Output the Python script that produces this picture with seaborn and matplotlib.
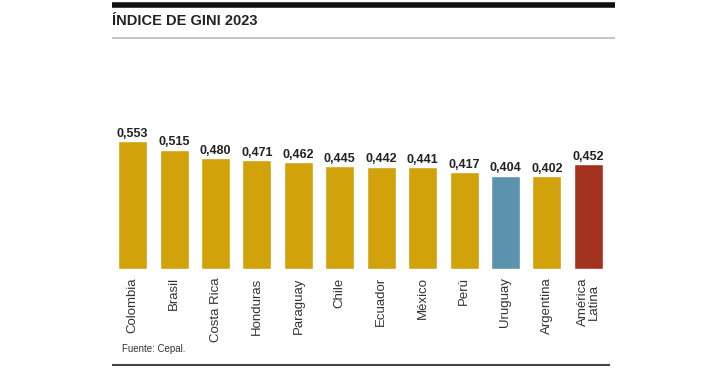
import numpy as np
import pandas as pd
import matplotlib
matplotlib.use("Agg")
import matplotlib.pyplot as plt
import seaborn as sns

paises = ["Colombia", "Brasil", "Costa Rica", "Honduras", "Paraguay", "Chile",
          "Ecuador", "México", "Perú", "Uruguay", "Argentina", "América\nLatina"]
gini = [0.553, 0.515, 0.480, 0.471, 0.462, 0.445, 0.442, 0.441, 0.417, 0.404, 0.402, 0.452]
colores = ["#D2A20A"] * 9 + ["#5B92AD", "#D2A20A", "#A2321E"]

df = pd.DataFrame({"pais": paises, "gini": gini})

sns.set_style("white")
plt.rcParams["font.family"] = ["Liberation Sans", "DejaVu Sans"]

fig = plt.figure(figsize=(7.2, 3.78), dpi=100)
ax = fig.add_axes([112 / 720, 1 - 269 / 378, 497 / 720, 162 / 378])

sns.barplot(data=df, x="pais", y="gini", hue="pais", palette=colores,
            width=0.7, legend=False, ax=ax, saturation=1)

for i, v in enumerate(gini):
    ax.text(i, v + 0.006, f"{v:.3f}".replace(".", ","), ha="center", va="bottom",
            fontsize=9, fontweight="bold", color="#222222")

ax.set_xlim(-0.5, len(paises) - 0.5)
ax.set_ylim(0, 0.7)
ax.set_yticks([])
ax.set_xlabel("")
ax.set_ylabel("")
ax.tick_params(axis="x", length=0, pad=6)
ax.set_xticks(range(len(paises)))
ax.set_xticklabels(paises, rotation=90, fontsize=9.5, color="#333333",
                   linespacing=0.95)
for s in ax.spines.values():
    s.set_visible(False)

# decoraciones
fig.add_artist(plt.Line2D([112 / 720, 615 / 720], [1 - 4.5 / 378, 1 - 4.5 / 378],
                          color="#111111", lw=4, solid_capstyle="butt"))
fig.add_artist(plt.Line2D([112 / 720, 615 / 720], [1 - 38 / 378, 1 - 38 / 378],
                          color="#BBBBBB", lw=1.2, solid_capstyle="butt"))
fig.add_artist(plt.Line2D([112 / 720, 610 / 720], [1 - 365 / 378, 1 - 365 / 378],
                          color="#444444", lw=1.5, solid_capstyle="butt"))
fig.text(112 / 720, 1 - 21 / 378, "ÍNDICE DE GINI 2023", fontsize=10.5,
         fontweight="bold", color="#222222", va="center", ha="left")
fig.text(122 / 720, 1 - 349 / 378, "Fuente: Cepal.", fontsize=7,
         color="#333333", va="center", ha="left")

fig.savefig("out.png", dpi=100)
